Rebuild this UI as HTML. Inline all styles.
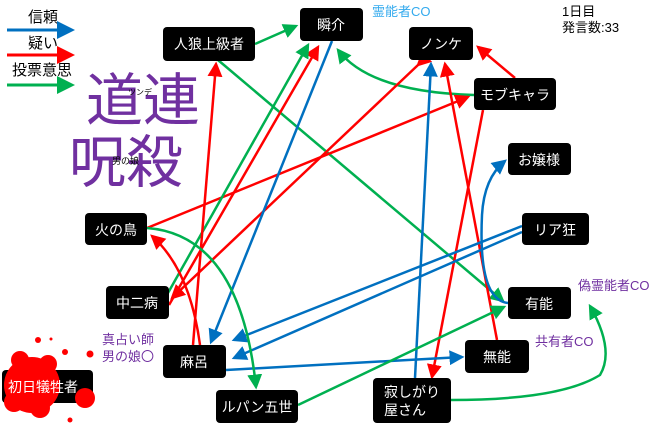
<!DOCTYPE html>
<html><head><meta charset="utf-8"><style>
html,body{margin:0;padding:0;background:#fff;width:660px;height:426px;overflow:hidden}
svg{display:block}
text{font-family:"Liberation Sans","Noto Sans CJK JP",sans-serif}
.n{fill:#000}
.t{fill:#fff;font-size:14px}
</style></head><body>
<svg width="660" height="426" viewBox="0 0 660 426" xmlns="http://www.w3.org/2000/svg">
<defs>
<marker id="b" markerWidth="6" markerHeight="6" refX="5" refY="3" orient="auto" markerUnits="strokeWidth"><path d="M0,0L6,3L0,6z" fill="#0070c0"/></marker>
<marker id="r" markerWidth="6" markerHeight="6" refX="5" refY="3" orient="auto" markerUnits="strokeWidth"><path d="M0,0L6,3L0,6z" fill="#ff0000"/></marker>
<marker id="g" markerWidth="6" markerHeight="6" refX="5" refY="3" orient="auto" markerUnits="strokeWidth"><path d="M0,0L6,3L0,6z" fill="#00b050"/></marker>
</defs>
<!-- legend -->
<text x="28" y="22" font-size="15" fill="#000">信頼</text>
<line x1="7" y1="30" x2="72" y2="30" stroke="#0070c0" stroke-width="3" marker-end="url(#b)"/>
<text x="28" y="48" font-size="15" fill="#000">疑い</text>
<line x1="7" y1="55" x2="72" y2="55" stroke="#ff0000" stroke-width="3" marker-end="url(#r)"/>
<text x="12" y="75" font-size="15" fill="#000">投票意思</text>
<line x1="7" y1="85" x2="72" y2="85" stroke="#00b050" stroke-width="3" marker-end="url(#g)"/>
<!-- big text -->
<text x="86" y="120" font-size="57" fill="#7030a0">道連</text>
<text x="69" y="182" font-size="57" fill="#7030a0">呪殺</text>
<text x="128" y="95" font-size="8" fill="#000">ツンデ</text>
<text x="112" y="164" font-size="9" fill="#000">男の娘</text>
<text x="372" y="16" font-size="13" fill="#33aaee">霊能者CO</text>
<text x="562" y="16" font-size="13" fill="#000">1日目</text>
<text x="562" y="32" font-size="13" fill="#000">発言数:33</text>
<text x="578" y="290" font-size="13" fill="#7030a0">偽霊能者CO</text>
<text x="535" y="346" font-size="13" fill="#7030a0">共有者CO</text>
<text x="102" y="344" font-size="13" fill="#7030a0">真占い師</text>
<text x="102" y="361" font-size="13" fill="#7030a0">男の娘〇</text>
<!-- edges -->
<g fill="none" stroke-width="2.5">
<line x1="255" y1="44" x2="296" y2="26" stroke="#00b050" marker-end="url(#g)"/>
<line x1="218" y1="60" x2="503" y2="301" stroke="#00b050" marker-end="url(#g)"/>
<path d="M474,95 Q370,92 338,50" stroke="#00b050" marker-end="url(#g)"/>
<line x1="515" y1="78" x2="478" y2="47" stroke="#ff0000" marker-end="url(#r)"/>
<line x1="147" y1="228" x2="468" y2="97" stroke="#ff0000" marker-end="url(#r)"/>
<line x1="418" y1="65" x2="172" y2="298" stroke="#ff0000" marker-end="url(#r)" marker-start="url(#r)"/>
<line x1="169" y1="305" x2="318" y2="47" stroke="#ff0000" marker-end="url(#r)"/>
<line x1="164" y1="300" x2="308" y2="45" stroke="#00b050" marker-end="url(#g)"/>
<line x1="193" y1="345" x2="216" y2="64" stroke="#ff0000" marker-end="url(#r)"/>
<path d="M200,345 Q190,270 152,236" stroke="#ff0000" marker-end="url(#r)"/>
<line x1="483" y1="110" x2="432" y2="377" stroke="#ff0000" marker-end="url(#r)"/>
<line x1="497" y1="340" x2="445" y2="64" stroke="#ff0000" marker-end="url(#r)"/>
<line x1="332" y1="41" x2="211" y2="342" stroke="#0070c0" marker-end="url(#b)"/>
<line x1="415" y1="378" x2="431" y2="64" stroke="#0070c0" marker-end="url(#b)"/>
<line x1="522" y1="226" x2="234" y2="340" stroke="#0070c0" marker-end="url(#b)"/>
<line x1="522" y1="232" x2="234" y2="358" stroke="#0070c0" marker-end="url(#b)"/>
<line x1="226" y1="370" x2="462" y2="357" stroke="#0070c0" marker-end="url(#b)"/>
<path d="M508,303 Q478,300 482,215 Q484,178 505,161" stroke="#0070c0" marker-end="url(#b)"/>
<path d="M147,228 Q240,235 256,387" stroke="#00b050" marker-end="url(#g)"/>
<line x1="298" y1="405" x2="504" y2="307" stroke="#00b050" marker-end="url(#g)"/>
<path d="M451,400 Q560,400 600,375 Q615,350 590,306" stroke="#00b050" marker-end="url(#g)"/>
</g>
<!-- nodes -->
<rect class="n" x="163" y="27" width="92" height="34" rx="4"/><text class="t" x="209" y="49" text-anchor="middle">人狼上級者</text>
<rect class="n" x="300" y="8" width="63" height="33" rx="4"/><text class="t" x="331" y="30" text-anchor="middle">瞬介</text>
<rect class="n" x="409" y="27" width="64" height="33" rx="4"/><text class="t" x="441" y="49" text-anchor="middle">ノンケ</text>
<rect class="n" x="474" y="78" width="82" height="32" rx="4"/><text class="t" x="515" y="100" text-anchor="middle">モブキャラ</text>
<rect class="n" x="508" y="143" width="63" height="32" rx="4"/><text class="t" x="539" y="165" text-anchor="middle">お嬢様</text>
<rect class="n" x="522" y="213" width="67" height="32" rx="4"/><text class="t" x="555" y="235" text-anchor="middle">リア狂</text>
<rect class="n" x="508" y="287" width="63" height="32" rx="4"/><text class="t" x="539" y="309" text-anchor="middle">有能</text>
<rect class="n" x="465" y="340" width="64" height="33" rx="4"/><text class="t" x="497" y="362" text-anchor="middle">無能</text>
<rect class="n" x="373" y="378" width="78" height="45" rx="4"/><text class="t" x="384" y="397">寂しがり</text><text class="t" x="384" y="415">屋さん</text>
<rect class="n" x="216" y="390" width="82" height="33" rx="4"/><text class="t" x="257" y="412" text-anchor="middle">ルパン五世</text>
<rect class="n" x="163" y="345" width="63" height="33" rx="4"/><text class="t" x="194" y="367" text-anchor="middle">麻呂</text>
<rect class="n" x="106" y="286" width="63" height="33" rx="4"/><text class="t" x="137" y="308" text-anchor="middle">中二病</text>
<rect class="n" x="85" y="213" width="62" height="32" rx="4"/><text class="t" x="116" y="235" text-anchor="middle">火の鳥</text>
<!-- victim -->
<rect class="n" x="2" y="370" width="91" height="33" rx="4"/>
<g fill="#ff0000">
<circle cx="32" cy="385" r="28"/><circle cx="20" cy="360" r="9"/><circle cx="48" cy="364" r="9"/><circle cx="14" cy="402" r="10"/><circle cx="40" cy="408" r="10"/>
<circle cx="85" cy="398" r="10"/><circle cx="38" cy="340" r="3"/><circle cx="65" cy="352" r="3"/><circle cx="90" cy="354" r="3.5"/><circle cx="70" cy="420" r="2.5"/><circle cx="51" cy="339" r="1.5"/>
</g>
<text class="t" x="8" y="392">初日犠牲者</text>
</svg>
</body></html>
